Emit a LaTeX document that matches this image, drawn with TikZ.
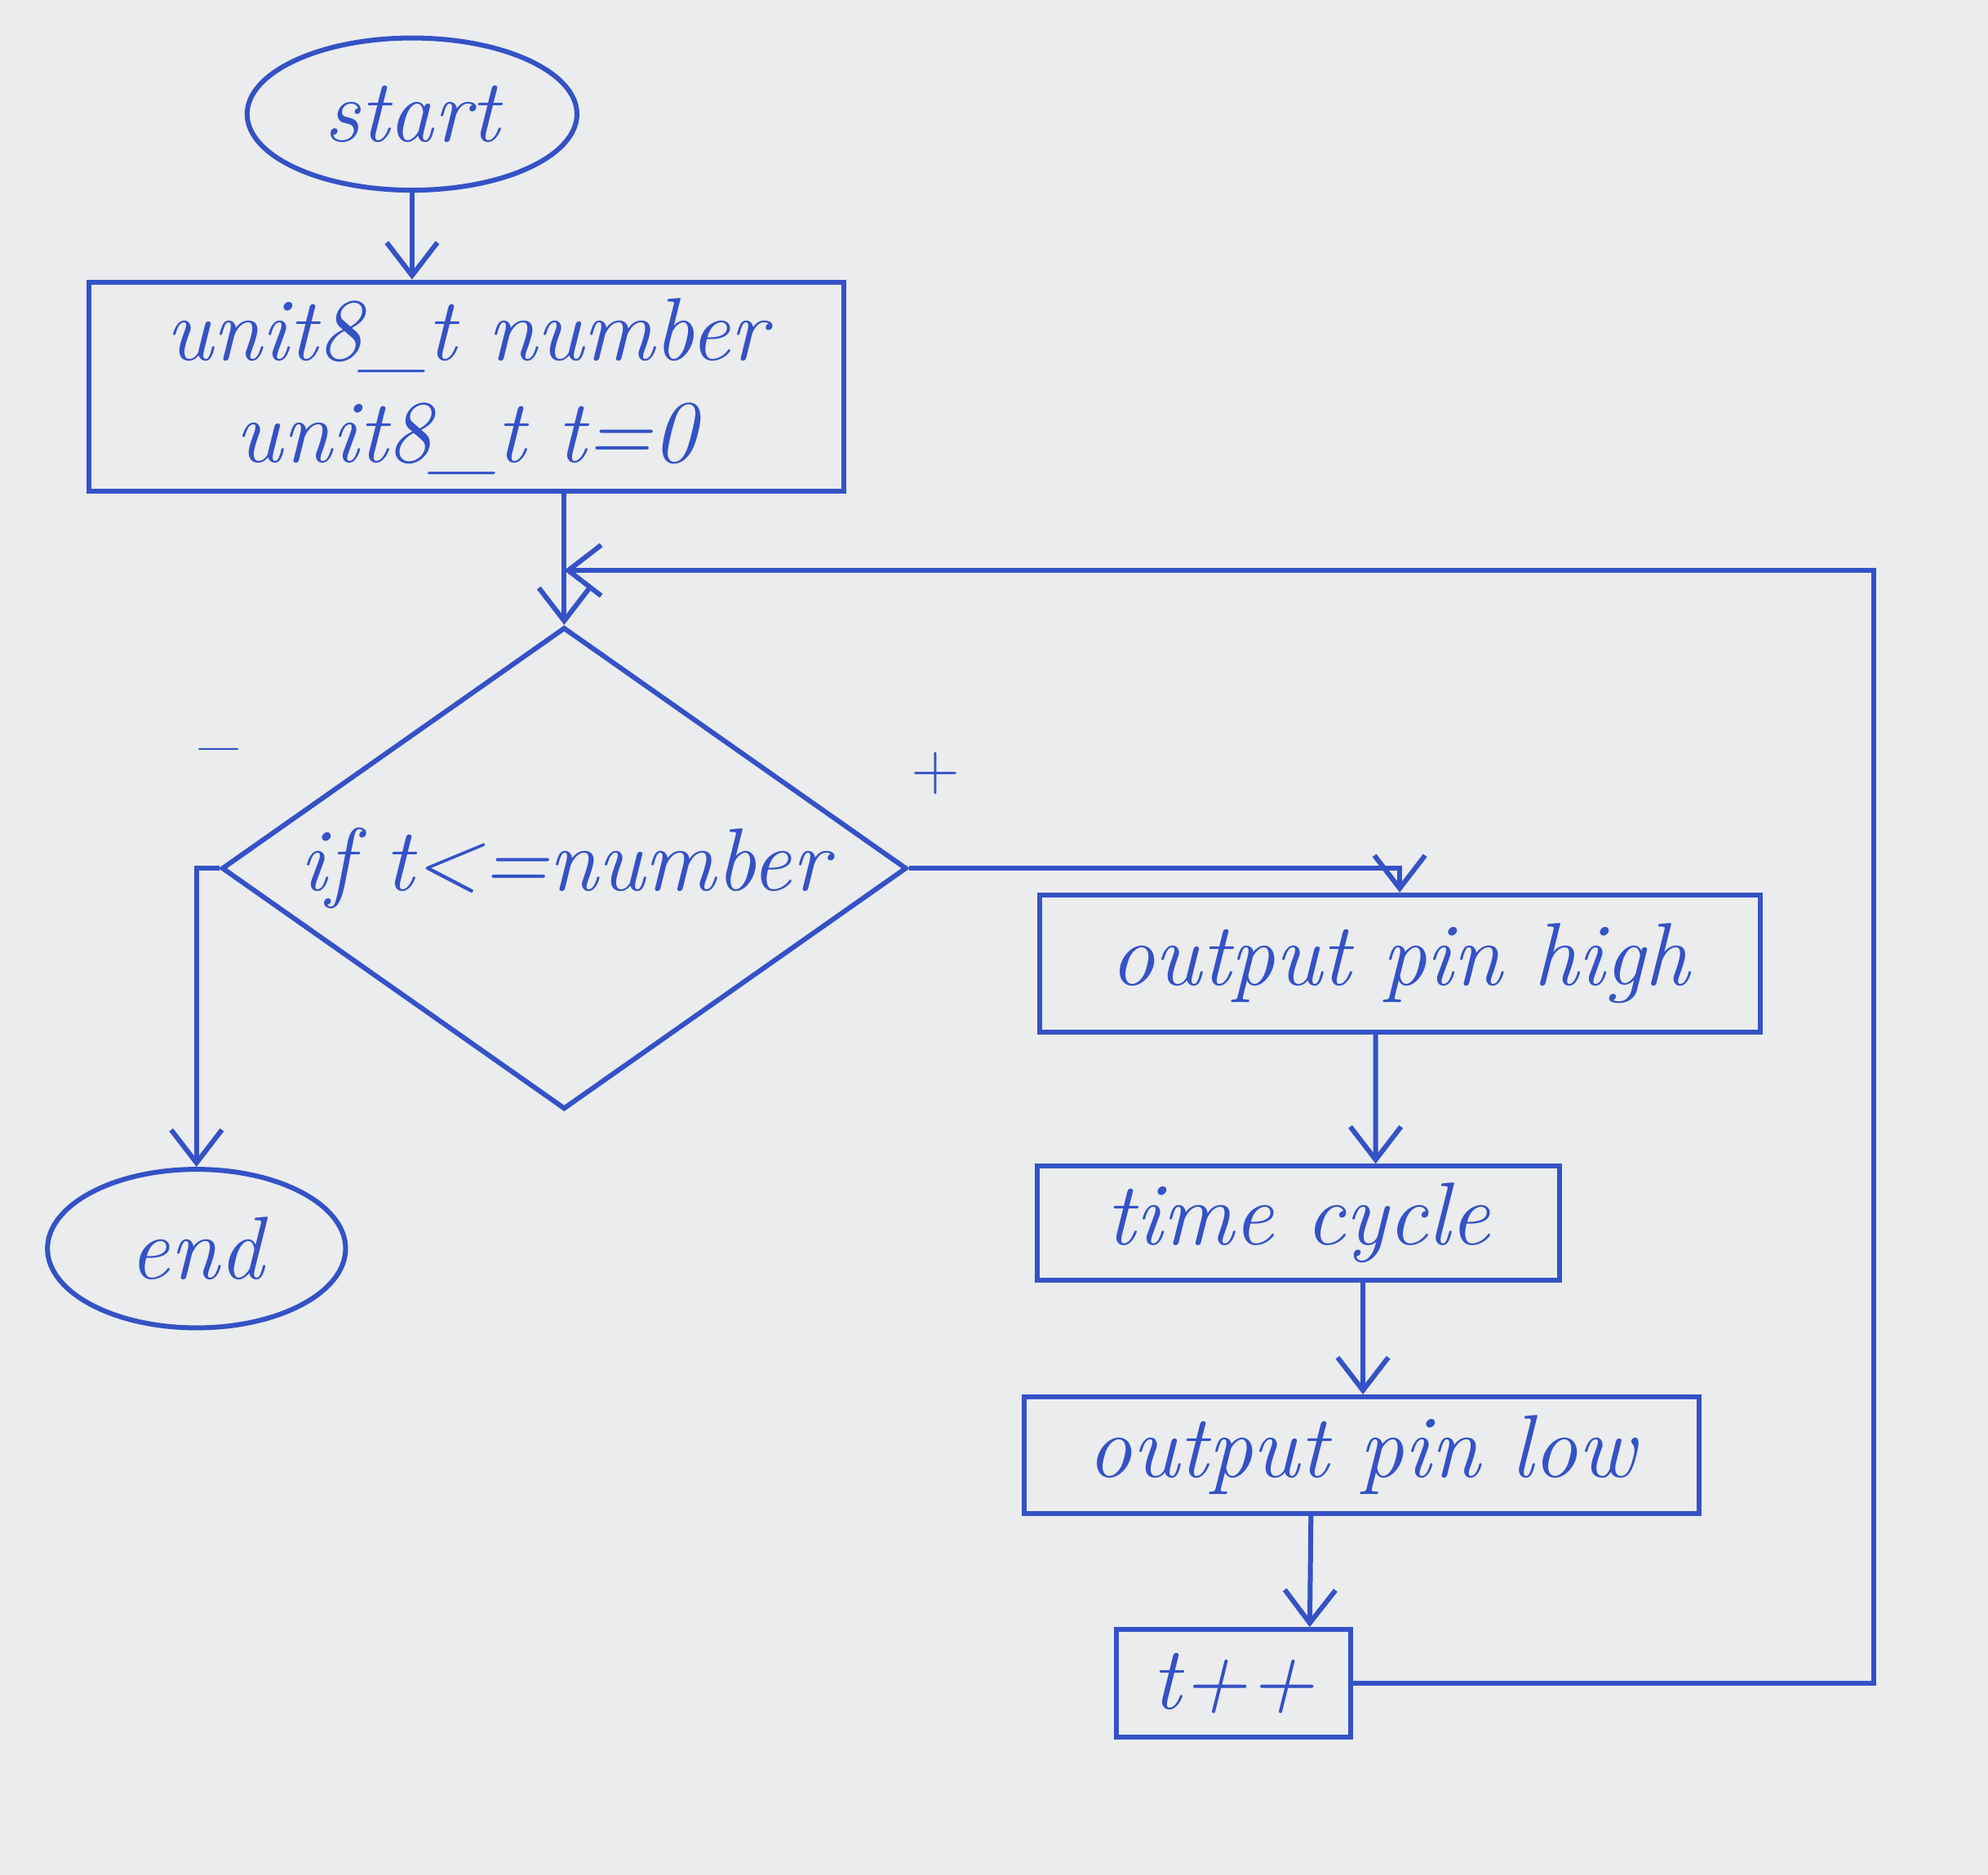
\documentclass[tikz,border=0pt]{standalone}
\usepackage{amsmath,amssymb}
\usepackage{tikz}
\usetikzlibrary{arrows.meta, positioning, calc, shapes.geometric}
\definecolor{ink}{RGB}{52,82,198}
\definecolor{paper}{RGB}{234,236,238}
\newcommand{\handfont}{\fontsize{20}{23}\selectfont\itshape}

\begin{document}
\begin{tikzpicture}[
  x=0.01cm, y=-0.01cm,
  color=ink, line width=1.1pt,
  >={Straight Barb[length=2.6mm, width=4mm]},
  term/.style={draw, ellipse, minimum width=2.6cm, minimum height=1.2cm, font=\handfont},
  proc/.style={draw, rectangle, align=center, inner sep=2pt, font=\handfont},
  dec/.style={draw, diamond, aspect=1.4, inner sep=0pt, font=\handfont},
  sign/.style={font=\handfont, inner sep=1pt}
]
\fill[paper] (0,0) rectangle (1568,1479);
\useasboundingbox (0,0) rectangle (1568,1479);

\node[term] (start) at (325,90) {start};
\node[proc, minimum width=5.95cm, minimum height=1.65cm] (init) at (368,305) {unit8\_t number\\unit8\_t t=0};
\node[dec, minimum width=5.4cm, minimum height=3.8cm] (cond) at (445,685) {if t<=number};
\node[term, minimum width=2.35cm, minimum height=1.25cm] (stop) at (155,985) {end};
\node[proc, minimum width=5.68cm, minimum height=1.08cm] (high) at (1104,760) {output pin high};
\node[proc, minimum width=4.12cm, minimum height=0.9cm] (wait) at (1024,965) {time cycle};
\node[proc, minimum width=5.32cm, minimum height=0.92cm] (low) at (1074,1148) {output pin low};
\node[proc, minimum width=1.85cm, minimum height=0.85cm] (inc) at (973,1328) {t++};
\node[sign] (minus) at (168,600) {--};
\node[sign, font=\Large] (plus) at (738,610) {+};
\coordinate (join) at (445,450);
\coordinate (rail) at (1478,0);

\draw[->] (start.south) -- (start.south |- init.north);
\draw[->] (init.south -| join) -- (cond.north);
\draw[->] (cond.west) -| (stop.north);
\draw[->] (cond.east) -| (high.north);
\draw[->] ([xshift=-0.19cm]high.south) -- ([xshift=0.61cm]wait.north);
\draw[->] ([xshift=0.51cm]wait.south) -- ([xshift=0.01cm]low.north);
\draw[->] ([xshift=-0.4cm]low.south) -- ([xshift=0.6cm]inc.north);
\draw[->] (inc.east) -- (inc.east -| rail) |- (join);
\end{tikzpicture}
\end{document}
